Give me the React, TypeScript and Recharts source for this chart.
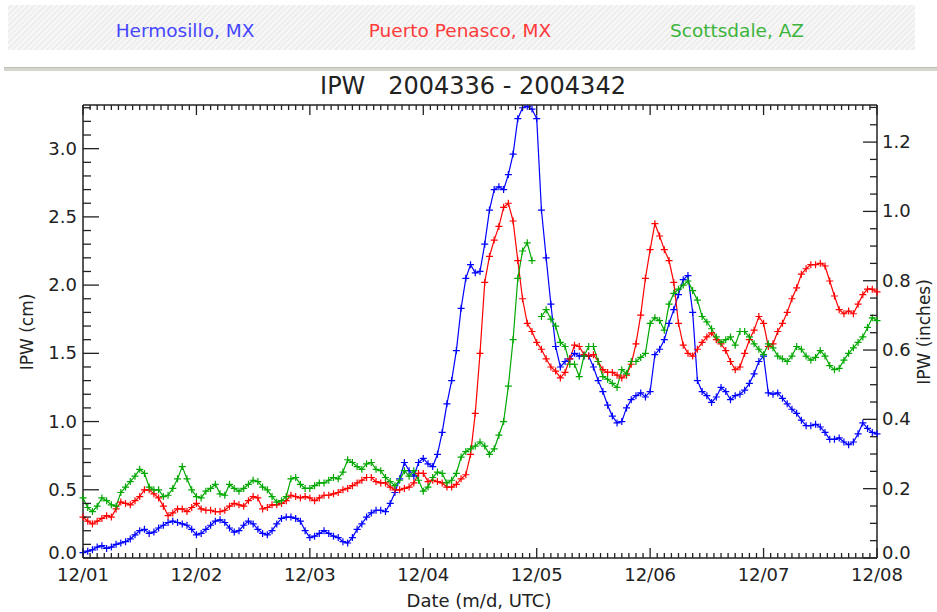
import { LineChart, Line, XAxis, YAxis } from 'recharts'

// hours since 12/01 00 UTC
const HOURS = Array.from({ length: 169 }, (_, i) => i)
const DAY_LABELS = ['12/01', '12/02', '12/03', '12/04', '12/05', '12/06', '12/07', '12/08']

// IPW in cm
const HERMOSILLO = [
  0.04, 0.05, 0.06, 0.08, 0.09, 0.07, 0.08, 0.10, 0.11, 0.12, 0.14, 0.17,
  0.20, 0.21, 0.18, 0.19, 0.22, 0.24, 0.26, 0.27, 0.26, 0.25, 0.24, 0.21,
  0.17, 0.18, 0.21, 0.24, 0.27, 0.28, 0.26, 0.22, 0.19, 0.20, 0.24, 0.27,
  0.25, 0.21, 0.18, 0.17, 0.20, 0.25, 0.29, 0.30, 0.30, 0.29, 0.27, 0.20,
  0.15, 0.16, 0.18, 0.20, 0.18, 0.16, 0.15, 0.12, 0.11, 0.15, 0.21, 0.25,
  0.30, 0.33, 0.35, 0.35, 0.34, 0.40, 0.48, 0.58, 0.70, 0.64, 0.60, 0.70,
  0.73, 0.69, 0.67, 0.76, 0.92, 1.13, 1.30, 1.52, 1.83, 2.05, 2.15, 2.09,
  2.10, 2.30, 2.55, 2.70, 2.72, 2.70, 2.81, 2.96, 3.22, 3.30, 3.31, 3.29,
  3.22, 2.55, 2.20, 1.86, 1.55, 1.40, 1.44, 1.46, 1.50, 1.48, 1.48, 1.48,
  1.40, 1.30, 1.22, 1.12, 1.04, 0.99, 1.00, 1.10, 1.16, 1.19, 1.21, 1.18,
  1.22, 1.49, 1.53, 1.60, 1.72, 1.82, 1.93, 2.04, 2.07, 1.80, 1.30, 1.22,
  1.19, 1.14, 1.18, 1.25, 1.22, 1.16, 1.19, 1.20, 1.23, 1.28, 1.35, 1.44,
  1.48, 1.21, 1.20, 1.21, 1.17, 1.13, 1.09, 1.06, 1.01, 0.97, 0.97, 0.98,
  0.96, 0.92, 0.87, 0.87, 0.88, 0.85, 0.83, 0.85, 0.91, 0.99, 0.95, 0.92,
  0.91,
]

const PENASCO = [
  0.30, 0.27, 0.25, 0.27, 0.29, 0.31, 0.30, 0.36, 0.41, 0.40, 0.39, 0.42,
  0.45, 0.50, 0.50, 0.47, 0.44, 0.38, 0.31, 0.33, 0.36, 0.36, 0.34, 0.37,
  0.40, 0.36, 0.35, 0.35, 0.34, 0.34, 0.35, 0.38, 0.40, 0.39, 0.38, 0.42,
  0.45, 0.44, 0.36, 0.37, 0.39, 0.39, 0.40, 0.42, 0.46, 0.45, 0.44, 0.45,
  0.44, 0.42, 0.44, 0.46, 0.46, 0.47, 0.48, 0.50, 0.51, 0.53, 0.55, 0.57,
  0.59, 0.59, 0.56, 0.55, 0.55, 0.52, 0.50, 0.50, 0.51, 0.52, 0.55, 0.62,
  0.62, 0.56, 0.57, 0.56, 0.55, 0.52, 0.52, 0.54, 0.58, 0.61, 0.76, 1.06,
  1.50, 2.02, 2.21, 2.33, 2.43, 2.57, 2.60, 2.47, 2.18, 1.90, 1.72, 1.66,
  1.58, 1.53, 1.46, 1.40, 1.37, 1.32, 1.36, 1.46, 1.56, 1.55, 1.49, 1.48,
  1.49, 1.44, 1.38, 1.36, 1.36, 1.34, 1.32, 1.34, 1.42, 1.57, 1.78, 2.05,
  2.26, 2.45, 2.36, 2.26, 2.18, 2.02, 1.72, 1.56, 1.50, 1.48, 1.53, 1.58,
  1.62, 1.65, 1.60, 1.57, 1.52, 1.44, 1.38, 1.40, 1.50, 1.60, 1.67, 1.77,
  1.72, 1.55, 1.57, 1.66, 1.72, 1.80, 1.90, 1.98, 2.08, 2.12, 2.15, 2.15,
  2.16, 2.14, 2.03, 1.92, 1.82, 1.79, 1.81, 1.79, 1.86, 1.93, 1.97, 1.97,
  1.95,
]

const SCOTTSDALE = [
  0.44, 0.37, 0.34, 0.38, 0.44, 0.42, 0.39, 0.38, 0.48, 0.52, 0.56, 0.60,
  0.65, 0.62, 0.52, 0.50, 0.50, 0.45, 0.46, 0.51, 0.58, 0.67, 0.58, 0.50,
  0.45, 0.44, 0.49, 0.51, 0.54, 0.47, 0.46, 0.54, 0.51, 0.49, 0.51, 0.54,
  0.57, 0.56, 0.52, 0.50, 0.45, 0.41, 0.42, 0.45, 0.58, 0.59, 0.54, 0.51,
  0.51, 0.53, 0.55, 0.55, 0.57, 0.59, 0.58, 0.63, 0.72, 0.70, 0.67, 0.65,
  0.69, 0.70, 0.65, 0.64, 0.59, 0.56, 0.53, 0.57, 0.64, 0.60, 0.64, 0.57,
  0.49, 0.52, 0.59, 0.63, 0.62, 0.55, 0.57, 0.62, 0.74, 0.78, 0.80, 0.82,
  0.85, 0.82, 0.76, 0.80, 0.90, 1.00, 1.26, 1.60, 2.05, 2.25, 2.31, 2.18,
  null, 1.77, 1.82, 1.75, 1.70, 1.58, 1.55, 1.42, 1.42, 1.33, 1.48, 1.55,
  1.55, 1.44, 1.33, 1.31, 1.28, 1.25, 1.38, 1.35, 1.44, 1.44, 1.47, 1.50,
  1.72, 1.76, 1.74, 1.67, 1.86, 1.94, 1.97, 2.00, 2.03, 1.96, 1.89, 1.77,
  1.73, 1.68, 1.62, 1.58, 1.60, 1.62, 1.56, 1.66, 1.66, 1.62, 1.57, 1.53,
  1.49, 1.57, 1.54, 1.48, 1.46, 1.44, 1.48, 1.55, 1.53, 1.48, 1.45, 1.47,
  1.52, 1.48, 1.41, 1.38, 1.39, 1.45, 1.50, 1.54, 1.58, 1.62, 1.69, 1.76,
  1.74,
]

const data = HOURS.map((t, i) => ({ t, h: HERMOSILLO[i], p: PENASCO[i], s: SCOTTSDALE[i] }))

// tick positions: minor every 1.5 h / 0.1 cm / 0.05 in
const X_TICKS = Array.from({ length: 113 }, (_, i) => i * 1.5)
const CM_TICKS = Array.from({ length: 34 }, (_, i) => +(i * 0.1).toFixed(1))
const IN_TICKS = Array.from({ length: 27 }, (_, i) => +(i * 0.05).toFixed(2))

const FONT = '"DejaVu Sans", sans-serif'
const AXIS = '#222'
const BLUE = '#0000ff'
const RED = '#ff0000'
const GREEN = '#00a800'

const isMult = (v: number, step: number) => Math.abs(v / step - Math.round(v / step)) < 1e-6

function BottomTick({ x, y, payload }: any) {
  const v = payload.value
  const major = isMult(v, 24)
  const ay = y - 4
  return (
    <g>
      <line x1={x} x2={x} y1={ay} y2={ay - (major ? 10 : 5)} stroke={AXIS} strokeWidth={1.3} />
      {major && (
        <text x={x} y={ay + 23} textAnchor="middle" fontSize={18} fontFamily={FONT} fill="#222">
          {DAY_LABELS[Math.round(v / 24)]}
        </text>
      )}
    </g>
  )
}

function TopTick({ x, y, payload }: any) {
  const major = isMult(payload.value, 24)
  return <line x1={x} x2={x} y1={y} y2={y + (major ? 10 : 5)} stroke={AXIS} strokeWidth={1.3} />
}

function LeftTick({ x, y, payload }: any) {
  const v = payload.value
  const major = isMult(v, 0.5)
  const ax = x + 6
  return (
    <g>
      <line x1={ax} x2={ax + (major ? 16 : 8)} y1={y} y2={y} stroke={AXIS} strokeWidth={1.3} />
      {major && (
        <text x={x} y={v === 0 ? y + 1 : y + 6} textAnchor="end" fontSize={18} fontFamily={FONT} fill="#222">
          {v.toFixed(1)}
        </text>
      )}
    </g>
  )
}

function RightTick({ x, y, payload }: any) {
  const v = payload.value
  const major = isMult(v, 0.2)
  const ax = x - 5
  return (
    <g>
      <line x1={ax} x2={ax - (major ? 14 : 7)} y1={y} y2={y} stroke={AXIS} strokeWidth={1.3} />
      {major && (
        <text x={x} y={v === 0 ? y + 1 : y + 6} textAnchor="start" fontSize={18} fontFamily={FONT} fill="#222">
          {v.toFixed(1)}
        </text>
      )}
    </g>
  )
}

const plusDot = (color: string) => (props: any) => {
  const { cx, cy, index, value } = props
  if (cx == null || cy == null || value == null) return <g key={index} />
  return (
    <path
      key={index}
      d={`M${cx - 3.5},${cy}H${cx + 3.5}M${cx},${cy - 3.5}V${cy + 3.5}`}
      stroke={color}
      strokeWidth={1.2}
      fill="none"
    />
  )
}

const legendText = (color: string, left: number) => ({
  position: 'absolute' as const,
  left,
  top: 20,
  transform: 'translateX(-50%)',
  color,
  fontFamily: FONT,
  fontSize: 18.5,
  whiteSpace: 'nowrap' as const,
})

export default function App() {
  return (
    <div style={{ position: 'absolute', left: 0, top: 0, width: 937, height: 612, background: '#fff', overflow: 'hidden' }}>
      <div
        style={{
          position: 'absolute',
          left: 8,
          top: 5,
          width: 907,
          height: 45,
          background: 'repeating-linear-gradient(135deg, #f7f7f7 0px, #f7f7f7 2px, #eeeeee 2px, #eeeeee 4px)',
        }}
      />
      <div style={legendText('#4646ff', 185)}>Hermosillo, MX</div>
      <div style={legendText('#ff3a3a', 460)}>Puerto Penasco, MX</div>
      <div style={legendText('#3cb43c', 737)}>Scottsdale, AZ</div>
      <div style={{ position: 'absolute', left: 4, top: 67, width: 933, height: 3, background: '#d6d6ce', borderTop: '1px solid #bdbdb5' }} />
      <div
        style={{
          position: 'absolute',
          left: 473,
          top: 72,
          transform: 'translateX(-50%)',
          fontFamily: FONT,
          fontSize: 24,
          color: '#222',
          whiteSpace: 'pre',
        }}
      >
        {'IPW   2004336 - 2004342'}
      </div>

      <div style={{ position: 'absolute', left: 0, top: 0 }}>
        <LineChart width={937} height={612} data={data} margin={{ top: 100, right: 5, bottom: 24, left: 23 }}>
          <XAxis
            xAxisId="bottom"
            dataKey="t"
            type="number"
            domain={[0, 168]}
            ticks={X_TICKS}
            interval={0}
            height={30}
            tickSize={0}
            tickMargin={4}
            tick={(p: any) => <BottomTick {...p} />}
            axisLine={{ stroke: AXIS, strokeWidth: 1.5 }}
          />
          <XAxis
            xAxisId="top"
            orientation="top"
            dataKey="t"
            type="number"
            domain={[0, 168]}
            ticks={X_TICKS}
            interval={0}
            height={5}
            tickSize={0}
            tickMargin={0}
            tick={(p: any) => <TopTick {...p} />}
            axisLine={{ stroke: AXIS, strokeWidth: 1.5 }}
          />
          <YAxis
            yAxisId="left"
            type="number"
            domain={[0, 3.32]}
            allowDataOverflow
            ticks={CM_TICKS}
            interval={0}
            width={60}
            tickSize={0}
            tickMargin={6}
            tick={(p: any) => <LeftTick {...p} />}
            axisLine={{ stroke: AXIS, strokeWidth: 1.5 }}
          />
          <YAxis
            yAxisId="right"
            orientation="right"
            type="number"
            domain={[0, 1.307]}
            allowDataOverflow
            ticks={IN_TICKS}
            interval={0}
            width={55}
            tickSize={0}
            tickMargin={5}
            tick={(p: any) => <RightTick {...p} />}
            axisLine={{ stroke: AXIS, strokeWidth: 1.5 }}
          />
          <Line xAxisId="bottom" yAxisId="left" type="linear" dataKey="h" stroke={BLUE} strokeWidth={1.2}
            dot={plusDot(BLUE)} activeDot={false} isAnimationActive={false} />
          <Line xAxisId="bottom" yAxisId="left" type="linear" dataKey="p" stroke={RED} strokeWidth={1.2}
            dot={plusDot(RED)} activeDot={false} isAnimationActive={false} />
          <Line xAxisId="bottom" yAxisId="left" type="linear" dataKey="s" stroke={GREEN} strokeWidth={1.2}
            dot={plusDot(GREEN)} activeDot={false} isAnimationActive={false} />
        </LineChart>
      </div>

      <div
        style={{
          position: 'absolute',
          left: 27,
          top: 332,
          transform: 'translate(-50%, -50%) rotate(-90deg)',
          fontFamily: FONT,
          fontSize: 17,
          color: '#222',
          whiteSpace: 'nowrap',
        }}
      >
        IPW (cm)
      </div>
      <div
        style={{
          position: 'absolute',
          left: 924,
          top: 332,
          transform: 'translate(-50%, -50%) rotate(-90deg)',
          fontFamily: FONT,
          fontSize: 17,
          color: '#222',
          whiteSpace: 'nowrap',
        }}
      >
        IPW (inches)
      </div>
      <div
        style={{
          position: 'absolute',
          left: 479,
          top: 600,
          transform: 'translate(-50%, -50%)',
          fontFamily: FONT,
          fontSize: 18,
          color: '#222',
          whiteSpace: 'nowrap',
        }}
      >
        Date (m/d, UTC)
      </div>
    </div>
  )
}
